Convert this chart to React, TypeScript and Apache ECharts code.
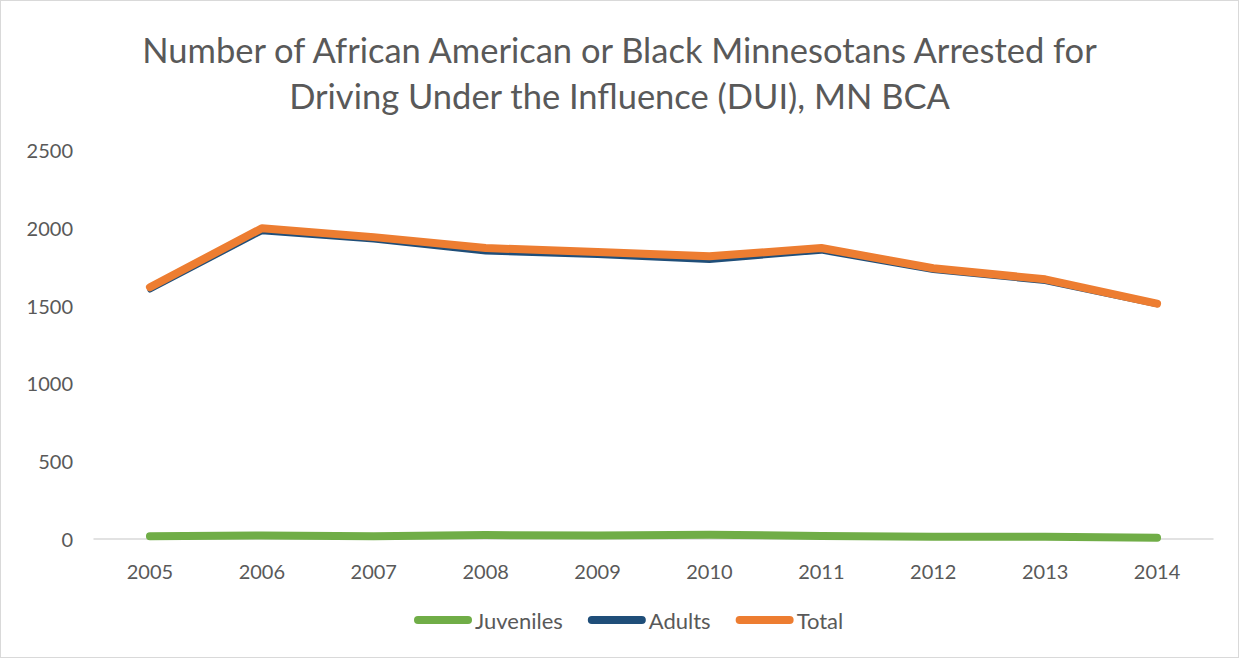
import React, { useEffect, useRef } from "react";
import * as echarts from "echarts";

const years = ["2005", "2006", "2007", "2008", "2009", "2010", "2011", "2012", "2013", "2014"];
const juveniles = [18, 22, 18, 25, 22, 27, 20, 15, 14, 8];
const adults = [1600, 1975, 1922, 1845, 1822, 1790, 1850, 1725, 1655, 1505];
const total = [1618, 1997, 1940, 1870, 1844, 1817, 1870, 1740, 1669, 1513];
const titleText = "Number of African American or Black Minnesotans Arrested for\nDriving Under the Influence (DUI), MN BCA";

const FONT = "Lato, 'Open Sans', sans-serif";
const legendIcon = "path://M4,0 H54 A4,4 0 0 1 54,8 H4 A4,4 0 0 1 4,0 Z";

export default function App() {
  const ref = useRef<HTMLDivElement>(null);
  useEffect(() => {
    if (!ref.current) return;
    const chart = echarts.init(ref.current, null, { renderer: "svg" });
    const mk = (name: string, data: number[], color: string, width: number) => ({
      name,
      type: "line",
      data,
      showSymbol: false,
      symbol: "none",
      lineStyle: { color, width, cap: "round", join: "round" },
      itemStyle: { color },
    });
    chart.setOption({
      animation: false,
      textStyle: { fontFamily: FONT },
      title: {
        text: titleText,
        left: "center",
        top: 20,
        textStyle: {
          fontFamily: FONT,
          fontSize: 34.5,
          fontWeight: "normal",
          color: "#595959",
          lineHeight: 46,
          align: "center",
        },
      },
      grid: { left: 93, right: 25, top: 149, bottom: 118, containLabel: false },
      xAxis: {
        type: "category",
        data: years,
        boundaryGap: true,
        axisLine: { lineStyle: { color: "#d9d9d9", width: 1.5 } },
        axisTick: { show: false },
        axisLabel: { color: "#595959", fontSize: 20, margin: 22, fontFamily: FONT },
      },
      yAxis: {
        type: "value",
        min: 0,
        max: 2500,
        interval: 500,
        axisLine: { show: false },
        axisTick: { show: false },
        splitLine: { show: false },
        axisLabel: {
          color: "#595959",
          fontSize: 20,
          margin: 21,
          fontFamily: FONT,
          formatter: (v: number) => String(v),
        },
      },
      legend: {
        bottom: 21,
        left: 408,
        itemWidth: 58,
        itemHeight: 8,
        itemGap: 25,
        icon: legendIcon,
        textStyle: { color: "#595959", fontSize: 22, fontFamily: FONT, padding: [0, 0, 0, -2] },
        data: ["Juveniles", "Adults", "Total"],
      },
      series: [
        mk("Juveniles", juveniles, "#70ad47", 8),
        mk("Adults", adults, "#1f4e79", 5),
        mk("Total", total, "#ed7d31", 8),
      ],
    });
    return () => chart.dispose();
  }, []);
  return (
    <div
      style={{
        position: "absolute",
        left: 0,
        top: 0,
        width: 1239,
        height: 658,
        boxSizing: "border-box",
        border: "1px solid #d9d9d9",
        background: "#fff",
      }}
    >
      <div ref={ref} style={{ width: "100%", height: "100%" }} />
    </div>
  );
}
